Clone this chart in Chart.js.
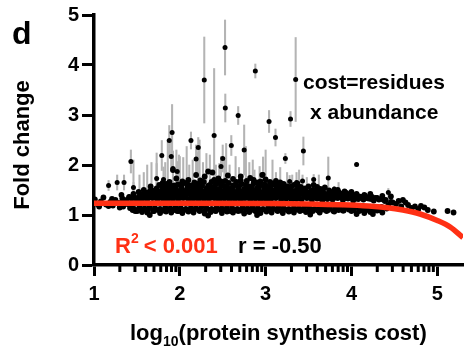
<!DOCTYPE html>
<html>
<head>
<meta charset="utf-8">
<script src="https://cdn.jsdelivr.net/npm/chart.js@4.4.1/dist/chart.umd.min.js"></script>
<style>
html,body{margin:0;padding:0;background:#fff;}
canvas{display:block;}
</style>
</head>
<body>
<canvas id="c" width="467" height="349"></canvas>
<script>
const FONT = '"Liberation Sans", Arial, Helvetica, sans-serif';
const RED = 'rgb(255,48,20)';

const xTicks = [1, 2, 3, 4, 5];
const yTicks = [0, 1, 2, 3, 4, 5];
const minorSteps = [2, 3, 4, 5, 6, 7, 8, 9];

// fitted curve
const fitX = [1, 2, 3, 3.5, 3.9, 4.2, 4.4, 4.6, 4.8, 5.0, 5.15, 5.3];
const fitY = [1.235, 1.235, 1.23, 1.222, 1.205, 1.18, 1.15, 1.10, 1.02, 0.89, 0.76, 0.55];

// points standing out of the cloud, with their error (SD)
const outX = [2.285, 2.527, 2.88, 2.53, 2.68, 3.04, 3.115, 2.40, 1.877, 1.91, 2.13, 2.215, 2.60, 2.75, 3.35, 3.29,
  2.19, 2.50, 2.48, 3.23, 3.44, 4.06, 3.56, 3.73, 3.80, 3.88, 4.43, 3.43, 3.28, 2.97, 3.36, 3.55,
  1.43, 1.79, 1.90, 1.73, 1.81, 1.92, 1.97, 1.17, 1.27, 1.35, 1.46];
const outY = [3.70, 4.35, 3.88, 3.14, 2.99, 2.87, 2.55, 2.59, 2.49, 2.65, 2.49, 2.35, 2.39, 2.30, 3.71, 2.92,
  2.12, 2.13, 1.97, 2.13, 2.28, 2.01, 1.71, 1.74, 1.52, 1.43, 1.45, 1.68, 1.67, 1.81, 1.65, 1.42,
  2.07, 2.19, 2.17, 1.73, 1.71, 1.93, 1.87, 1.59, 1.65, 1.65, 1.55];
const outErr = [0.86, 0.55, 0.14, 0.28, 0.18, 0.22, 0.17, 1.34, 0.30, 0.56, 0.17, 0.20, 0.20, 0.50, 0.84, 0.15,
  0.28, 0.27, 0.20, 0.10, 0.28, 0.04, 0.10, 0.42, 0.05, 0.06, 0.08, 0.12, 0.12, 0.35, 0.20, 0.06,
  0.23, 0.30, 0.28, 0.30, 0.25, 0.35, 0.20, 0.10, 0.15, 0.15, 0.10];

// error bars rising out of the dense cloud
const barX = [1.46, 1.58, 1.62, 1.67, 1.73, 1.83, 1.86, 1.96, 2.00, 2.04, 2.08, 2.11, 2.15, 2.21, 2.23, 2.27, 2.31, 2.35,
  2.42, 2.46, 2.52, 2.54, 2.65, 2.69, 2.77, 2.81, 2.85, 2.93, 3.00, 3.08, 3.17, 3.25, 3.31, 3.39, 3.48, 3.62, 3.85,
  1.53, 2.58, 2.97, 3.12, 1.99, 2.87];
const barHi = [2.10, 1.85, 2.00, 2.05, 2.24, 2.05, 2.50, 2.30, 2.17, 2.15, 2.37, 2.00, 2.10, 2.25, 2.50, 2.05, 2.23, 2.20,
  2.00, 2.03, 2.15, 2.43, 2.17, 1.95, 2.37, 2.05, 2.10, 1.97, 2.30, 2.10, 1.95, 1.85, 1.80, 1.90, 1.75, 1.80, 1.65,
  1.80, 2.00, 2.15, 1.85, 2.20, 1.90];
const barBase = 1.3;

// dense cloud of proteins near fold change 1.0 - 1.7
const cloud = [
  [1.01,1.31],[1.04,1.22],[1.06,1.17],[1.08,1.27],[1.11,1.35],[1.14,1.21],[1.17,1.18],[1.19,1.26],[1.21,1.32],[1.22,1.19],
  [1.25,1.30],[1.29,1.24],[1.30,1.15],[1.32,1.40],[1.33,1.33],[1.34,1.17],[1.36,1.28],[1.39,1.22],[1.41,1.36],[1.44,1.16],
  [1.46,1.42],[1.50,1.08],
  [1.48,1.08],[1.56,1.06],[1.62,1.05],[1.70,1.08],[1.77,1.04],[1.84,1.07],[1.90,1.05],[1.97,1.08],[2.03,1.04],[2.10,1.07],
  [2.16,1.05],[2.23,1.08],[2.29,1.03],[2.36,1.06],[2.42,1.08],[2.49,1.04],[2.55,1.07],[2.62,1.05],[2.68,1.08],[2.75,1.03],
  [2.81,1.06],[2.88,1.08],[2.94,1.04],[3.01,1.07],[3.07,1.05],[3.14,1.08],[3.20,1.04],[3.27,1.07],[3.33,1.05],[3.40,1.08],
  [3.47,1.06],[3.55,1.08],[3.63,1.05],[3.71,1.08],[3.80,1.07],[3.90,1.09],[4.00,1.08],[4.12,1.10],[4.22,1.06],[4.30,1.09],
  [1.65,1.00],[2.33,0.99],[2.90,1.00],[3.52,1.01],
  [1.45,1.10],[1.51,1.09],[1.57,1.11],[1.63,1.10],[1.69,1.08],[1.75,1.10],[1.81,1.09],[1.87,1.11],[1.93,1.10],[1.99,1.08],
  [2.05,1.10],[2.11,1.09],[2.17,1.11],[2.23,1.10],[2.29,1.08],[2.35,1.10],[2.41,1.09],[2.47,1.11],[2.53,1.10],[2.59,1.08],
  [2.65,1.10],[2.71,1.09],[2.77,1.11],[2.83,1.10],[2.89,1.08],[2.95,1.10],[3.01,1.09],[3.07,1.11],[3.13,1.10],[3.19,1.08],
  [3.25,1.10],[3.31,1.09],[3.37,1.11],[3.43,1.10],[3.49,1.08],[3.55,1.10],[3.61,1.09],[3.67,1.11],[3.73,1.10],[3.79,1.08],
  [3.85,1.10],[3.91,1.09],[3.97,1.11],[4.03,1.10],[4.09,1.08],[4.15,1.10],[4.21,1.09],[4.27,1.11],[4.33,1.10],
  [1.42,1.14],[1.47,1.12],[1.53,1.15],[1.59,1.13],[1.65,1.16],[1.71,1.14],[1.77,1.12],[1.83,1.15],[1.89,1.13],[1.95,1.16],
  [2.01,1.14],[2.07,1.12],[2.13,1.15],[2.19,1.13],[2.25,1.16],[2.31,1.14],[2.37,1.12],[2.43,1.15],[2.49,1.13],[2.55,1.16],
  [2.61,1.14],[2.67,1.12],[2.73,1.15],[2.79,1.13],[2.85,1.16],[2.91,1.14],[2.97,1.12],[3.03,1.15],[3.09,1.13],[3.15,1.16],
  [3.21,1.14],[3.27,1.12],[3.33,1.15],[3.39,1.13],[3.45,1.16],[3.51,1.14],[3.57,1.12],[3.63,1.15],[3.69,1.13],[3.75,1.16],
  [3.81,1.14],[3.87,1.12],[3.93,1.15],[3.99,1.13],[4.05,1.16],[4.11,1.14],[4.17,1.12],[4.23,1.15],[4.29,1.13],[4.35,1.16],
  [4.41,1.13],
  [1.38,1.30],[1.44,1.33],[1.50,1.29],[1.56,1.32],[1.62,1.31],[1.68,1.34],[1.74,1.30],[1.80,1.33],[1.86,1.29],[1.92,1.32],
  [1.98,1.31],[2.04,1.34],[2.10,1.30],[2.16,1.33],[2.22,1.29],[2.28,1.32],[2.34,1.31],[2.40,1.34],[2.46,1.30],[2.52,1.33],
  [2.58,1.29],[2.64,1.32],[2.70,1.31],[2.76,1.34],[2.82,1.30],[2.88,1.33],[2.94,1.29],[3.00,1.32],[3.06,1.31],[3.12,1.34],
  [3.18,1.30],[3.24,1.33],[3.30,1.29],[3.36,1.32],[3.42,1.31],[3.48,1.34],[3.54,1.30],[3.60,1.33],[3.66,1.29],[3.72,1.32],
  [3.78,1.31],[3.84,1.34],[3.90,1.30],[3.96,1.33],[4.02,1.29],[4.08,1.32],[4.14,1.31],[4.20,1.33],[4.26,1.29],[4.32,1.31],
  [4.39,1.28],[4.46,1.26],
  [1.41,1.35],[1.47,1.36],[1.53,1.34],[1.59,1.35],[1.65,1.37],[1.71,1.35],[1.77,1.36],[1.83,1.34],[1.89,1.35],[1.95,1.37],
  [2.01,1.35],[2.07,1.36],[2.13,1.34],[2.19,1.35],[2.25,1.37],[2.31,1.35],[2.37,1.36],[2.43,1.34],[2.49,1.35],[2.55,1.37],
  [2.61,1.35],[2.67,1.36],[2.73,1.34],[2.79,1.35],[2.85,1.37],[2.91,1.35],[2.97,1.36],[3.03,1.34],[3.09,1.35],[3.15,1.37],
  [3.21,1.35],[3.27,1.36],[3.33,1.34],[3.39,1.35],[3.45,1.37],[3.51,1.35],[3.57,1.36],[3.63,1.34],[3.69,1.35],[3.75,1.37],
  [3.81,1.35],[3.87,1.36],[3.93,1.34],[3.99,1.35],[4.05,1.33],[4.11,1.35],[4.17,1.34],[4.23,1.32],[4.30,1.34],[4.37,1.31],
  [1.53,1.38],[1.59,1.41],[1.65,1.37],[1.71,1.40],[1.77,1.39],[1.83,1.41],[1.89,1.38],[1.95,1.40],[2.01,1.37],[2.07,1.41],
  [2.13,1.39],[2.19,1.38],[2.25,1.41],[2.31,1.37],[2.37,1.40],[2.43,1.39],[2.49,1.41],[2.55,1.38],[2.61,1.40],[2.67,1.37],
  [2.73,1.41],[2.79,1.39],[2.85,1.38],[2.91,1.41],[2.97,1.37],[3.03,1.40],[3.09,1.39],[3.15,1.41],[3.21,1.38],[3.27,1.40],
  [3.33,1.37],[3.39,1.41],[3.45,1.39],[3.51,1.38],[3.57,1.40],[3.63,1.37],[3.69,1.39],[3.75,1.38],[3.81,1.36],[3.87,1.39],
  [3.93,1.37],[3.99,1.35],[4.05,1.38],[4.12,1.36],[4.20,1.35],[4.28,1.34],
  [1.56,1.42],[1.62,1.43],[1.68,1.41],[1.74,1.42],[1.80,1.44],[1.86,1.42],[1.92,1.43],[1.98,1.41],[2.04,1.42],[2.10,1.44],
  [2.16,1.42],[2.22,1.43],[2.28,1.41],[2.34,1.42],[2.40,1.44],[2.46,1.42],[2.52,1.43],[2.58,1.41],[2.64,1.42],[2.70,1.44],
  [2.76,1.42],[2.82,1.43],[2.88,1.41],[2.94,1.42],[3.00,1.44],[3.06,1.42],[3.12,1.43],[3.18,1.41],[3.24,1.42],[3.30,1.44],
  [3.36,1.42],[3.42,1.43],[3.48,1.41],[3.54,1.42],[3.60,1.41],[3.66,1.42],[3.72,1.40],[3.78,1.41],[3.84,1.39],[3.90,1.40],
  [3.96,1.38],[4.02,1.39],[4.09,1.37],[4.16,1.38],[4.24,1.36],
  [1.63,1.45],[1.69,1.48],[1.75,1.44],[1.81,1.47],[1.87,1.46],[1.93,1.48],[1.99,1.45],[2.05,1.47],[2.11,1.44],[2.17,1.48],
  [2.23,1.46],[2.29,1.45],[2.35,1.48],[2.41,1.44],[2.47,1.47],[2.53,1.46],[2.59,1.48],[2.65,1.45],[2.71,1.47],[2.77,1.44],
  [2.83,1.48],[2.89,1.46],[2.95,1.45],[3.01,1.48],[3.07,1.44],[3.13,1.47],[3.19,1.46],[3.25,1.45],[3.31,1.47],[3.37,1.44],
  [3.43,1.46],[3.50,1.45],[3.57,1.43],[3.64,1.45],[3.72,1.42],[3.80,1.44],[3.89,1.42],[3.97,1.41],[4.06,1.42],
  [1.66,1.49],[1.72,1.50],[1.78,1.48],[1.84,1.50],[1.90,1.49],[1.96,1.50],[2.02,1.48],[2.08,1.50],[2.14,1.49],[2.20,1.50],
  [2.26,1.48],[2.32,1.50],[2.38,1.49],[2.44,1.50],[2.50,1.48],[2.56,1.50],[2.62,1.49],[2.68,1.50],[2.74,1.48],[2.80,1.50],
  [2.86,1.49],[2.92,1.50],[2.98,1.48],[3.04,1.50],[3.10,1.49],[3.16,1.50],[3.22,1.48],[3.28,1.49],[3.34,1.48],[3.40,1.49],
  [3.47,1.47],[3.53,1.48],[3.60,1.47],[3.67,1.47],[3.76,1.46],[3.85,1.46],[3.94,1.44],
  [1.73,1.53],[1.80,1.55],[1.88,1.52],[1.95,1.56],[2.02,1.53],[2.09,1.55],[2.16,1.52],[2.24,1.56],[2.31,1.53],[2.38,1.55],
  [2.46,1.52],[2.53,1.56],[2.60,1.53],[2.68,1.55],[2.75,1.52],[2.83,1.56],[2.90,1.53],[2.98,1.55],[3.05,1.52],[3.13,1.54],
  [3.21,1.52],[3.29,1.55],[3.37,1.51],[3.46,1.53],[3.55,1.50],[3.64,1.52],[3.74,1.49],[3.84,1.50],
  [1.86,1.57],[1.94,1.59],[2.02,1.58],[2.10,1.60],[2.18,1.57],[2.26,1.59],[2.33,1.58],[2.41,1.57],[2.48,1.60],[2.55,1.57],
  [2.62,1.59],[2.69,1.57],[2.77,1.60],[2.84,1.57],[2.92,1.58],[2.99,1.61],[3.06,1.57],[3.14,1.59],[3.22,1.56],[3.30,1.57],[3.38,1.55],
  [1.66,1.57],[1.76,1.60],[1.84,1.62],[1.91,1.58],[1.98,1.61],[2.06,1.64],[2.14,1.59],[2.21,1.62],[2.28,1.66],[2.35,1.60],
  [2.43,1.63],[2.50,1.59],[2.57,1.64],[2.64,1.60],[2.72,1.62],[2.79,1.58],[2.86,1.63],[2.93,1.60],[3.01,1.58],[3.09,1.61],
  [3.17,1.59],[3.25,1.57],[3.33,1.60],[3.41,1.56],[3.50,1.57],[3.60,1.56],[3.69,1.55],[3.92,1.47],[4.00,1.46],[4.15,1.40],
  [4.22,1.42],[4.36,1.38],[1.58,1.50],[1.52,1.46],
  [2.03,1.67],[2.17,1.65],[2.24,1.69],[2.37,1.66],[2.53,1.68],[2.66,1.66],[2.78,1.68],[2.94,1.67],[3.05,1.66],[3.21,1.62],
  [1.88,1.66],[1.80,1.64],[2.45,1.73],[2.86,1.70],[3.37,1.63],[3.56,1.60],
  [2.19,1.80],[2.33,1.87],[2.38,1.85],[2.56,1.79],[2.71,1.77],[2.96,1.80],[1.92,1.90],[1.96,1.73],[2.29,1.77],[2.48,1.67],
  [2.71,1.69],[2.90,1.65],[3.00,1.71],[3.08,1.63],[3.17,1.65],[2.10,1.70],[2.62,1.72],[2.82,1.74],[2.40,1.70],[3.12,1.68],
  [4.40,1.30],[4.43,1.20],[4.46,1.37],[4.48,1.25],[4.52,1.22],[4.55,1.28],[4.58,1.17],[4.60,1.30],[4.63,1.25],[4.66,1.20],
  [4.70,1.14],[4.74,1.17],[4.78,1.12],[4.81,1.18],[4.85,1.15],[4.89,1.10],[4.96,1.07],[5.12,1.08],[5.19,1.05],[4.36,1.05],
  [4.25,1.02],[4.15,1.04],[4.06,1.02]
];

const minorTicks = xTicks.flatMap(d => minorSteps.map(m => d + Math.log10(m))).filter(v => v < 5.3);

function runText(ctx, x, y, parts) {
  parts.forEach(p => {
    ctx.font = 'bold ' + p.size + 'px ' + FONT;
    ctx.fillText(p.t, x, y + (p.dy || 0));
    x += ctx.measureText(p.t).width + (p.gap || 0);
  });
}

const decor = {
  id: 'decor',
  afterDraw(chart) {
    const ctx = chart.ctx, xs = chart.scales.x;
    ctx.save();
    ctx.strokeStyle = '#000';
    ctx.lineWidth = 3;
    minorTicks.forEach(v => {
      const px = xs.getPixelForValue(v);
      ctx.beginPath();
      ctx.moveTo(px, xs.top);
      ctx.lineTo(px, xs.top + 7);
      ctx.stroke();
    });
    ctx.fillStyle = '#000';
    ctx.textAlign = 'left';
    ctx.textBaseline = 'alphabetic';
    runText(ctx, 12, 44, [{t: 'd', size: 32}]);
    runText(ctx, 303, 89, [{t: 'cost=residues', size: 21}]);
    runText(ctx, 310, 119, [{t: 'x abundance', size: 21}]);
    runText(ctx, 238, 253, [{t: 'r = -0.50', size: 22}]);
    runText(ctx, 130, 340, [{t: 'log', size: 22}, {t: '10', size: 14, dy: 6}, {t: '(protein synthesis cost)', size: 22}]);
    ctx.fillStyle = RED;
    runText(ctx, 115, 253, [{t: 'R', size: 22}, {t: '2', size: 14, dy: -10, gap: 5}, {t: '< 0.001', size: 22}]);
    ctx.fillStyle = '#000';
    ctx.translate(29, 145);
    ctx.rotate(-Math.PI / 2);
    ctx.textAlign = 'center';
    ctx.font = 'bold 22px ' + FONT;
    ctx.fillText('Fold change', 0, 0);
    ctx.restore();
  }
};

const tickFont = {family: FONT, size: 20, weight: 'bold'};
const cloudPts = cloud.map(p => ({x: p[0], y: p[1]}));
const outPts = outX.map((x, i) => ({x: x, y: outY[i]}));
const bars = outX.map((x, i) => ({x: x, y: [outY[i] - outErr[i], outY[i] + outErr[i]]}))
  .concat(barX.map((x, i) => ({x: x, y: [barBase, barHi[i]]})));

new Chart(document.getElementById('c'), {
  type: 'scatter',
  data: {
    datasets: [
      {type: 'line', data: fitX.map((x, i) => ({x: x, y: fitY[i]})), borderColor: RED, borderWidth: 5.5,
       pointRadius: 0, cubicInterpolationMode: 'monotone', fill: false, order: 1},
      {type: 'scatter', data: outPts, pointRadius: 2.5, pointBackgroundColor: '#000', pointBorderWidth: 0,
       borderWidth: 0, order: 2},
      {type: 'scatter', data: cloudPts, pointRadius: 2.9, pointBackgroundColor: '#000', pointBorderWidth: 0,
       borderWidth: 0, order: 3},
      {type: 'bar', data: bars, backgroundColor: '#b4b4b4', barThickness: 1.4, borderWidth: 0, order: 4}
    ]
  },
  options: {
    responsive: false,
    animation: false,
    devicePixelRatio: 1,
    layout: {padding: {top: 15, right: 1, left: 0, bottom: 0}},
    plugins: {legend: {display: false}, tooltip: {enabled: false}},
    scales: {
      x: {
        type: 'linear', min: 1, max: 5.3, offset: false,
        afterBuildTicks: s => { s.ticks = xTicks.map(v => ({value: v})); },
        afterFit: s => { s.height = 84; },
        grid: {drawOnChartArea: false, drawTicks: true, tickLength: 11, tickWidth: 3, tickColor: '#000', offset: false},
        border: {display: true, color: '#000', width: 3.5},
        ticks: {font: tickFont, color: '#000', padding: 6, maxRotation: 0, autoSkip: false}
      },
      y: {
        min: 0, max: 5,
        afterBuildTicks: s => { s.ticks = yTicks.map(v => ({value: v})); },
        afterFit: s => { s.width = 94; },
        grid: {drawOnChartArea: false, drawTicks: true, tickLength: 12, tickWidth: 3, tickColor: '#000'},
        border: {display: true, color: '#000', width: 3.5},
        ticks: {font: tickFont, color: '#000', padding: 3}
      }
    }
  },
  plugins: [decor]
});
</script>
</body>
</html>
